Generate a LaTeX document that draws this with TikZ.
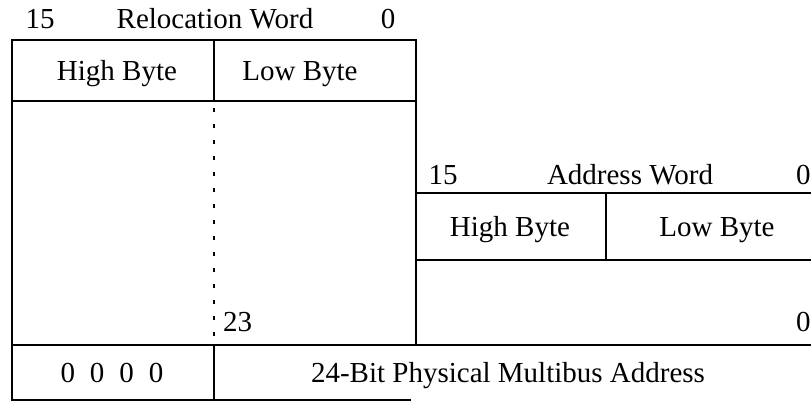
\documentclass[tikz,border=0pt]{standalone}
\usepackage{fontspec}
\setmainfont{Liberation Serif}
\begin{document}
\begin{tikzpicture}[x=1pt,y=-1pt,
  lbl/.style={inner sep=0pt,anchor=base,font=\fontsize{29}{32}\selectfont},
  rule/.style={line width=1.6pt,line cap=rect},
  dotrule/.style={line width=2pt,dash pattern=on 4pt off 12pt}]
\useasboundingbox (0,0) rectangle (811,402);
% relocation word box
\draw[rule] (12,400) -- (12,40) -- (416,40) -- (416,345);
\draw[rule] (12,101) -- (416,101);
\draw[rule] (214,40) -- (214,101);
\draw[dotrule] (214,108) -- (214,338);
% address word box
\draw[rule] (416,193) -- (811,193);
\draw[rule] (416,260) -- (811,260);
\draw[rule] (606,193) -- (606,260);
% physical address row
\draw[rule] (12,345) -- (811,345);
\draw[rule] (12,400) -- (410,400);
\draw[rule] (214,345) -- (214,400);
% labels
\node[lbl] (r15) at (40,28) {15};
\node[lbl] (rw) at (215,28) {Relocation Word};
\node[lbl] (r0) at (388,28) {0};
\node[lbl] (rhb) at (117,80) {High Byte};
\node[lbl] (rlb) at (300,80) {Low Byte};
\node[lbl] (a15) at (443,184) {15};
\node[lbl] (aw) at (630,184) {Address Word};
\node[lbl,anchor=base west] (a0) at (796,184) {0};
\node[lbl] (ahb) at (510,236) {High Byte};
\node[lbl] (alb) at (717,236) {Low Byte};
\node[lbl,anchor=base west] (b23) at (223,331) {23};
\node[lbl,anchor=base west] (b0) at (796,331) {0};
\node[lbl] (z) at (112,382) {0\hspace{15pt}0\hspace{15pt}0\hspace{15pt}0};
\node[lbl] (pa) at (508,382) {24-Bit Physical Multibus Address};
\end{tikzpicture}
\end{document}
